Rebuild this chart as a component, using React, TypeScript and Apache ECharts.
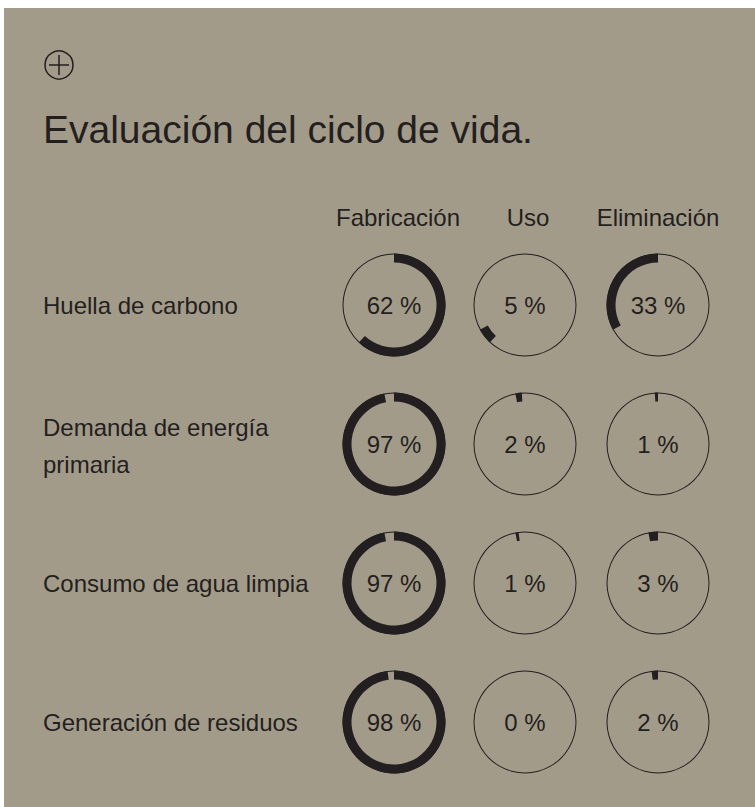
import React, { useEffect, useRef } from "react";
import * as echarts from "echarts";

const titleText = "Evaluación del ciclo de vida.";
const categories = [
  "Huella de carbono",
  "Demanda de energía primaria",
  "Consumo de agua limpia",
  "Generación de residuos",
];
const phases = ["Fabricación", "Uso", "Eliminación"];
const fabricacion = [62, 97, 97, 98];
const uso = [5, 2, 1, 0];
const eliminacion = [33, 1, 3, 2];

const W = 751;
const H = 799;
const BG = "#a39b89";
const INK = "#231f20";
const FONT = "'Liberation Sans', Arial, sans-serif";
const colX = [390, 521, 654];
const rowY = [297, 436, 575, 714];
const R_OUT = 51.5;
const R_IN = 42.5;

export default function App() {
  const ref = useRef<HTMLDivElement>(null);
  useEffect(() => {
    if (!ref.current) return;
    const chart = echarts.init(ref.current, undefined, { renderer: "svg" });
    const values = [fabricacion, uso, eliminacion];
    const series: any[] = [];
    categories.forEach((_, r) => {
      values.forEach((arr, c) => {
        const v = arr[r];
        // start of the arc, in percent of the circle, clockwise from 12 o'clock
        let start = 0;
        if (c === 1) start = fabricacion[r];
        if (c === 2) start = 100 - eliminacion[r];
        const center = [colX[c], rowY[r]];
        series.push({
          type: "pie",
          silent: true,
          center,
          radius: [R_OUT - 1, R_OUT],
          startAngle: 90,
          label: {
            show: true,
            position: "center",
            formatter: () => `${v} %`,
            color: INK,
            fontFamily: FONT,
            fontSize: 24,
          },
          labelLine: { show: false },
          itemStyle: { color: INK, borderWidth: 0 },
          data: [{ value: 1 }],
        });
        series.push({
          type: "pie",
          silent: true,
          center,
          radius: [R_IN, R_OUT],
          startAngle: 90 - start * 3.6,
          clockwise: true,
          label: { show: false },
          labelLine: { show: false },
          itemStyle: { borderWidth: 0 },
          data: [
            { value: v, itemStyle: { color: INK } },
            { value: 100 - v, itemStyle: { color: "rgba(0,0,0,0)" } },
          ],
        });
      });
    });

    const texts: any[] = [
      {
        type: "text",
        x: 39,
        y: 121,
        style: {
          text: titleText,
          fill: INK,
          font: `39px ${FONT}`,
          align: "left",
          verticalAlign: "middle",
        },
      },
    ];
    phases.forEach((p, c) => {
      texts.push({
        type: "text",
        x: colX[c] + (c === 0 ? 4 : c === 1 ? 3 : 0),
        y: 209,
        style: {
          text: p,
          fill: INK,
          font: `24px ${FONT}`,
          align: "center",
          verticalAlign: "middle",
        },
      });
    });
    categories.forEach((cat, r) => {
      texts.push({
        type: "text",
        x: 39,
        y: rowY[r] + (r === 1 ? 2 : 0),
        style: {
          text: cat,
          fill: INK,
          font: `24px ${FONT}`,
          align: "left",
          verticalAlign: "middle",
          width: 280,
          overflow: "break",
          lineHeight: 37,
        },
      });
    });
    // plus icon
    texts.push({
      type: "group",
      x: 55,
      y: 57,
      children: [
        { type: "circle", shape: { cx: 0, cy: 0, r: 14 }, style: { fill: "none", stroke: INK, lineWidth: 1.5 } },
        { type: "line", shape: { x1: -10, y1: 0, x2: 10, y2: 0 }, style: { stroke: INK, lineWidth: 1.5 } },
        { type: "line", shape: { x1: 0, y1: -10, x2: 0, y2: 10 }, style: { stroke: INK, lineWidth: 1.5 } },
      ],
    });

    chart.setOption({
      animation: false,
      backgroundColor: BG,
      series,
      graphic: texts,
    });
    return () => chart.dispose();
  }, []);
  return (
    <div
      ref={ref}
      style={{ position: "absolute", left: 4, top: 8, width: W, height: H }}
    />
  );
}
